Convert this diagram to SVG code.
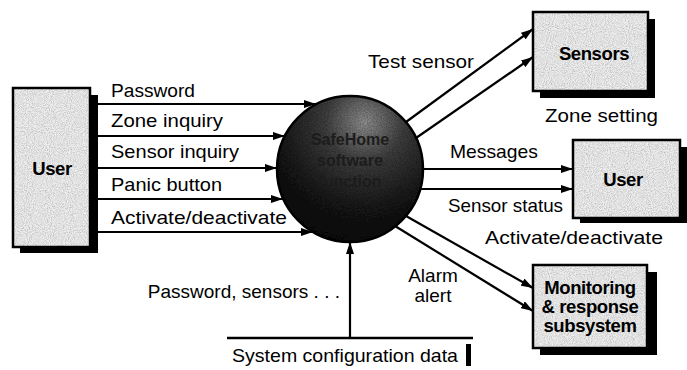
<svg xmlns="http://www.w3.org/2000/svg" width="687" height="370" viewBox="0 0 687 370">
  <style>
    .lbl { font-family: "Liberation Sans", Arial, sans-serif; font-size: 19px; fill: #000; }
    .box { fill: #d8d8d8; }
    .frame { fill: none; stroke: #000; stroke-width: 2.5; }
    .shadow { fill: #000; }
    .name { font-family: "Liberation Sans", Arial, sans-serif; font-size: 18.5px; font-weight: bold; fill: #000; letter-spacing: -0.4px; text-anchor: middle; }
    .flow { fill: none; stroke: #000; stroke-width: 2.2; }
    .bubble-text { font-family: "Liberation Sans", Arial, sans-serif; font-size: 16px; font-weight: bold; fill: #1c1c1c; text-anchor: middle; }
  </style>
  <defs>
    <marker id="arrow" viewBox="0 0 12 8" refX="12" refY="4" markerWidth="12" markerHeight="8" markerUnits="userSpaceOnUse" orient="auto">
      <path d="M0,0 L12,4 L0,8 Z" fill="#000"/>
    </marker>
    <!-- fine speckle for the shaded entity boxes -->
    <filter id="grain" x="0" y="0" width="1" height="1">
      <feTurbulence type="fractalNoise" baseFrequency="0.95" numOctaves="2" seed="4" result="noise"/>
      <feColorMatrix in="noise" type="matrix" values="1.3 0 0 0 0.15  1.3 0 0 0 0.15  1.3 0 0 0 0.15  0 0 0 0 0.55" result="speck"/>
      <feComposite in="speck" in2="SourceGraphic" operator="in" result="clipped"/>
      <feComposite in="clipped" in2="SourceGraphic" operator="over"/>
    </filter>
    <!-- speckle for the dark process bubble -->
    <filter id="grainDark" x="0" y="0" width="1" height="1">
      <feTurbulence type="fractalNoise" baseFrequency="0.8" numOctaves="3" seed="11" result="noise"/>
      <feColorMatrix in="noise" type="matrix" values="1.6 0 0 0 -0.45  1.6 0 0 0 -0.45  1.6 0 0 0 -0.45  0 0 0 0 0.5" result="speck"/>
      <feComposite in="speck" in2="SourceGraphic" operator="in" result="clipped"/>
      <feBlend in="clipped" in2="SourceGraphic" mode="multiply"/>
    </filter>
    <radialGradient id="sphere" cx="0.6" cy="0.18" r="0.9">
      <stop offset="0" stop-color="#9a9a9a"/>
      <stop offset="0.3" stop-color="#444"/>
      <stop offset="0.65" stop-color="#1a1a1a"/>
      <stop offset="1" stop-color="#050505"/>
    </radialGradient>
  </defs>

  <!-- external entity: user (source) -->
  <g id="user-left">
    <rect class="shadow" x="20" y="95" width="78" height="158"/>
    <rect class="box" x="13" y="88" width="77" height="159" filter="url(#grain)"/>
    <rect class="frame" x="13" y="88" width="77" height="159"/>
    <text class="name" x="52" y="175">User</text>
  </g>

  <!-- central process bubble -->
  <g id="safehome">
    <circle cx="350" cy="169" r="73" fill="url(#sphere)" filter="url(#grainDark)"/>
    <text class="bubble-text" x="350" y="145">SafeHome</text>
    <text class="bubble-text" x="350" y="166">software</text>
    <text class="bubble-text" x="350" y="187">function</text>
    <circle cx="350" cy="169" r="73" fill="none" stroke="#000" stroke-width="2.5"/>
  </g>

  <!-- external entity: sensors -->
  <g id="sensors">
    <rect class="shadow" x="540" y="19" width="115" height="79"/>
    <rect class="box" x="533" y="12" width="115" height="79" filter="url(#grain)"/>
    <rect class="frame" x="533" y="12" width="115" height="79"/>
    <text class="name" x="594" y="60">Sensors</text>
  </g>

  <!-- external entity: user (sink) -->
  <g id="user-right">
    <rect class="shadow" x="580" y="147" width="107" height="76"/>
    <rect class="box" x="573" y="140" width="107" height="78" filter="url(#grain)"/>
    <rect class="frame" x="573" y="140" width="107" height="78"/>
    <text class="name" x="623" y="186">User</text>
  </g>

  <!-- external entity: monitoring & response subsystem -->
  <g id="monitoring">
    <rect class="shadow" x="540" y="272" width="117" height="83"/>
    <rect class="box" x="533" y="265" width="114" height="83" filter="url(#grain)"/>
    <rect class="frame" x="533" y="265" width="114" height="83"/>
    <text class="name" x="590" y="294">Monitoring</text>
    <text class="name" x="590" y="313">&amp; response</text>
    <text class="name" x="590" y="332">subsystem</text>
  </g>

  <!-- data store -->
  <g id="config-store">
    <line x1="227" y1="338" x2="473" y2="338" stroke="#000" stroke-width="2.5"/>
    <text class="lbl" x="232" y="362" textLength="226" lengthAdjust="spacingAndGlyphs">System configuration data</text>
    <rect x="466" y="344" width="5" height="22" fill="#000"/>
  </g>

  <!-- data flows -->
  <g id="flows">
    <line class="flow" x1="97" y1="104" x2="316" y2="104" marker-end="url(#arrow)"/>
    <line class="flow" x1="97" y1="136" x2="285" y2="136" marker-end="url(#arrow)"/>
    <line class="flow" x1="97" y1="168" x2="277" y2="168" marker-end="url(#arrow)"/>
    <line class="flow" x1="97" y1="199" x2="283" y2="199" marker-end="url(#arrow)"/>
    <line class="flow" x1="97" y1="232" x2="313" y2="232" marker-end="url(#arrow)"/>

    <line class="flow" x1="406" y1="122" x2="533" y2="29" marker-end="url(#arrow)"/>
    <line class="flow" x1="416" y1="138" x2="533" y2="57" marker-end="url(#arrow)"/>

    <line class="flow" x1="423" y1="169" x2="573" y2="169" marker-end="url(#arrow)"/>
    <line class="flow" x1="420" y1="189" x2="573" y2="189" marker-end="url(#arrow)"/>

    <line class="flow" x1="406" y1="216" x2="533" y2="288" marker-end="url(#arrow)"/>
    <line class="flow" x1="395" y1="226" x2="533" y2="311" marker-end="url(#arrow)"/>

    <line class="flow" x1="350" y1="338" x2="350" y2="242" marker-end="url(#arrow)"/>
  </g>

  <!-- flow labels -->
  <g id="labels">
    <text class="lbl" x="111" y="97" textLength="84" lengthAdjust="spacingAndGlyphs">Password</text>
    <text class="lbl" x="111" y="127" textLength="112" lengthAdjust="spacingAndGlyphs">Zone inquiry</text>
    <text class="lbl" x="111" y="158" textLength="128" lengthAdjust="spacingAndGlyphs">Sensor inquiry</text>
    <text class="lbl" x="111" y="191" textLength="111" lengthAdjust="spacingAndGlyphs">Panic button</text>
    <text class="lbl" x="111" y="224" textLength="176" lengthAdjust="spacingAndGlyphs">Activate/deactivate</text>
    <text class="lbl" x="368" y="68" textLength="106" lengthAdjust="spacingAndGlyphs">Test sensor</text>
    <text class="lbl" x="545" y="122" textLength="113" lengthAdjust="spacingAndGlyphs">Zone setting</text>
    <text class="lbl" x="450" y="158" textLength="88" lengthAdjust="spacingAndGlyphs">Messages</text>
    <text class="lbl" x="448" y="212" textLength="115" lengthAdjust="spacingAndGlyphs">Sensor status</text>
    <text class="lbl" x="485" y="244" textLength="178" lengthAdjust="spacingAndGlyphs">Activate/deactivate</text>
    <text class="lbl" x="433" y="282" text-anchor="middle">Alarm</text>
    <text class="lbl" x="433" y="302" text-anchor="middle">alert</text>
    <text class="lbl" x="340" y="298" text-anchor="end">Password, sensors . . .</text>
  </g>
</svg>
